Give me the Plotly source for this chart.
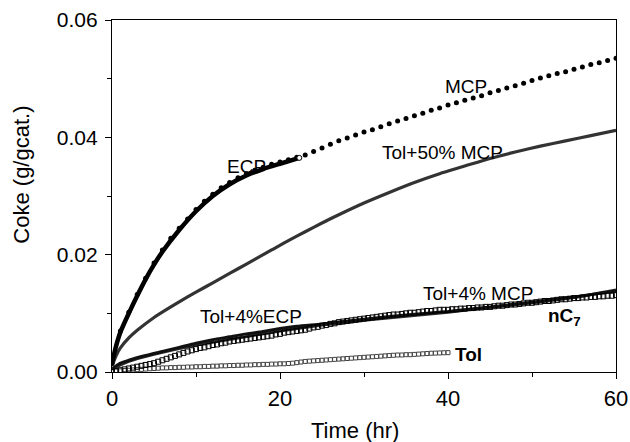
import plotly.graph_objects as go

# ---------------- data ----------------
# MCP: filled dots, one per hour (0..60 h)
mcp_t = list(range(0, 61))
mcp_c = [0.0015, 0.0070, 0.0102, 0.0132, 0.0160, 0.0186, 0.0208, 0.0228, 0.0245, 0.0261,
         0.0277, 0.0291, 0.0303, 0.0314, 0.0323, 0.0331, 0.0338, 0.0344, 0.0349, 0.0354,
         0.0358, 0.0362, 0.0366, 0.0370, 0.0376, 0.0382, 0.0388, 0.0394, 0.0399, 0.0404,
         0.0409, 0.0413, 0.0418, 0.0423, 0.0428, 0.0432, 0.0437, 0.0441, 0.0446, 0.0450,
         0.0455, 0.0459, 0.0463, 0.0467, 0.0471, 0.0476, 0.0480, 0.0484, 0.0488, 0.0492,
         0.0497, 0.0501, 0.0505, 0.0509, 0.0512, 0.0516, 0.0520, 0.0524, 0.0527, 0.0531,
         0.0535]

# ECP: dense open circles (drawn as a thick band), 0..22.3 h
ecp_t = [0, 0.5, 1, 2, 3, 4, 5, 6, 8, 10, 12, 14, 16, 18, 20, 22.3]
ecp_c = [0.0015, 0.0045, 0.0068, 0.0100, 0.0130, 0.0158, 0.0183, 0.0205, 0.0242, 0.0274,
         0.0300, 0.0320, 0.0335, 0.0346, 0.0355, 0.0365]

# Tol+50% MCP: dense band
t50_t = [0, 0.5, 1, 2, 3, 5, 7, 9, 11, 13, 15, 17, 19, 21, 23, 25, 27, 30, 33, 36, 39,
         42, 45, 48, 51, 54, 57, 60]
t50_c = [0.0010, 0.0028, 0.0041, 0.0058, 0.0071, 0.0093, 0.0111, 0.0128, 0.0144, 0.0160,
         0.0176, 0.0192, 0.0208, 0.0224, 0.0239, 0.0254, 0.0268, 0.0288, 0.0306, 0.0323,
         0.0338, 0.0351, 0.0364, 0.0375, 0.0385, 0.0394, 0.0403, 0.0412]

# Tol+4%ECP: dense band
t4e_t = [0, 1, 2, 4, 6, 8, 10, 12, 14, 16, 18, 20, 22, 25, 30, 35, 40, 45, 50, 55, 60]
t4e_c = [0.0005, 0.0015, 0.0020, 0.0028, 0.0035, 0.0042, 0.0049, 0.0055, 0.0060, 0.0065,
         0.0069, 0.0074, 0.0078, 0.0082, 0.0090, 0.0097, 0.0103, 0.0111, 0.0119, 0.0128,
         0.0138]

# Tol+4% MCP: dense band
t4m_t = [0, 2, 5, 10, 15, 20, 25, 30, 35, 40, 45, 50, 55, 60]
t4m_c = [0.0005, 0.0018, 0.0030, 0.0046, 0.0058, 0.0070, 0.0080, 0.0088, 0.0095, 0.0102,
         0.0110, 0.0118, 0.0127, 0.0140]

# nC7: open squares every 0.5 h, 0..60 h
nc7_c = [0.0000, 0.00015, 0.0003, 0.00045, 0.0006, 0.00075, 0.0009, 0.00105, 0.0012, 0.00135,
         0.0015, 0.00175, 0.0020, 0.00225, 0.0025, 0.00275, 0.0030, 0.00325, 0.0035, 0.0037,
         0.0039, 0.0041, 0.0042, 0.0044, 0.0046, 0.0047, 0.0049, 0.0050, 0.0052, 0.0053,
         0.0054, 0.0055, 0.0056, 0.0057, 0.0058, 0.0059, 0.0060, 0.0061, 0.0062, 0.0064,
         0.0065, 0.0067, 0.0068, 0.0069, 0.0070, 0.0071, 0.0072, 0.0074, 0.0076, 0.0077,
         0.0079, 0.0080, 0.0082, 0.0083, 0.0085, 0.0086, 0.0087, 0.0088, 0.0089, 0.0090,
         0.0091, 0.0092, 0.0093, 0.0094, 0.0095, 0.0096, 0.0097, 0.0098, 0.0098, 0.0099,
         0.0100, 0.0101, 0.0101, 0.0102, 0.0103, 0.0104, 0.0104, 0.0105, 0.0106, 0.0106,
         0.0106, 0.0107, 0.0107, 0.0108, 0.0108, 0.0109, 0.0109, 0.0110, 0.0110, 0.0111,
         0.0111, 0.0112, 0.0113, 0.0113, 0.0114, 0.0115, 0.0115, 0.0116, 0.0117, 0.0118,
         0.0118, 0.0119, 0.0120, 0.0121, 0.0121, 0.0122, 0.0123, 0.0124, 0.0124, 0.0125,
         0.0126, 0.0126, 0.0127, 0.0127, 0.0128, 0.0128, 0.0129, 0.0129, 0.0130, 0.0130,
         0.0131]
nc7_t = [i * 0.5 for i in range(len(nc7_c))]

# Tol: small open squares every 0.5 h, 0..40 h
tol_c = [0.0001, 0.00015, 0.0002, 0.00025, 0.0003, 0.00035, 0.0004, 0.00045, 0.0005, 0.00055,
         0.0006, 0.00065, 0.0007, 0.0007, 0.00075, 0.00075, 0.0008, 0.0008, 0.00085, 0.00085,
         0.0009, 0.0009, 0.00095, 0.00095, 0.0010, 0.0010, 0.00105, 0.00105, 0.0011, 0.0011,
         0.00115, 0.00115, 0.0012, 0.0012, 0.00125, 0.00125, 0.0013, 0.0013, 0.00135, 0.00135,
         0.0014, 0.0014, 0.00145, 0.0015, 0.0016, 0.0017, 0.0018, 0.00185, 0.0019, 0.00195,
         0.0020, 0.00205, 0.0021, 0.00215, 0.0022, 0.00225, 0.0023, 0.00235, 0.0024, 0.00245,
         0.0025, 0.00255, 0.0026, 0.00265, 0.0027, 0.00275, 0.0028, 0.00285, 0.0029, 0.0029,
         0.00295, 0.00295, 0.0030, 0.00305, 0.0031, 0.00315, 0.0032, 0.00322, 0.00325, 0.00328,
         0.0033]
tol_t = [i * 0.5 for i in range(len(tol_c))]

# curve labels: (text, x, y)
labels = [
    ("ECP", 16.0, 0.0350),
    ("MCP", 42.2, 0.0486),
    ("Tol+50% MCP", 39.4, 0.0375),
    ("Tol+4%ECP", 16.6, 0.0094),
    ("Tol+4% MCP", 43.6, 0.0134),
    ("<b>nC<sub>7</sub></b>", 53.9, 0.0094),
    ("<b>Tol</b>", 42.4, 0.0029),
]

FONT = "Liberation Sans, Arial, Helvetica, sans-serif"

fig = go.Figure()

# dense bands
fig.add_trace(go.Scatter(x=t50_t, y=t50_c, mode="lines",
                         line=dict(color="#333333", width=3.2, shape="spline", smoothing=0.6),
                         name="Tol+50% MCP"))
fig.add_trace(go.Scatter(x=t4m_t, y=t4m_c, mode="lines",
                         line=dict(color="#2a2a2a", width=3, shape="spline", smoothing=0.6),
                         name="Tol+4% MCP"))
fig.add_trace(go.Scatter(x=t4e_t, y=t4e_c, mode="lines",
                         line=dict(color="#111111", width=3, shape="spline", smoothing=0.6),
                         name="Tol+4%ECP"))
fig.add_trace(go.Scatter(x=tol_t, y=tol_c, mode="markers",
                         marker=dict(symbol="square-open", size=4, color="#444444",
                                     line=dict(width=1)),
                         name="Tol"))
fig.add_trace(go.Scatter(x=nc7_t, y=nc7_c, mode="markers",
                         marker=dict(symbol="square-open", size=5, color="black",
                                     line=dict(width=1)),
                         name="nC7"))
fig.add_trace(go.Scatter(x=mcp_t, y=mcp_c, mode="markers",
                         marker=dict(symbol="circle", size=5, color="black"),
                         name="MCP"))
fig.add_trace(go.Scatter(x=ecp_t, y=ecp_c, mode="lines",
                         line=dict(color="black", width=4.5, shape="spline", smoothing=0.6),
                         name="ECP"))
fig.add_trace(go.Scatter(x=ecp_t[-1:], y=ecp_c[-1:], mode="markers",
                         marker=dict(symbol="circle", size=5, color="white",
                                     line=dict(color="black", width=1)),
                         showlegend=False))

for text, x, y in labels:
    fig.add_annotation(x=x, y=y, xref="x", yref="y", text=text, showarrow=False,
                       font=dict(family=FONT, size=19, color="black"),
                       xanchor="center", yanchor="middle")

# axis titles
fig.add_annotation(x=0.482, y=-0.165, xref="paper", yref="paper", text="Time (hr)",
                   showarrow=False, font=dict(family=FONT, size=22, color="black"),
                   xanchor="center", yanchor="middle")
fig.add_annotation(x=-0.179, y=0.56, xref="paper", yref="paper", text="Coke (g/gcat.)",
                   showarrow=False, textangle=-90,
                   font=dict(family=FONT, size=22, color="black"),
                   xanchor="center", yanchor="middle")

fig.update_layout(
    width=630, height=442,
    margin=dict(l=112, r=14, t=20, b=70, autoexpand=False),
    paper_bgcolor="white", plot_bgcolor="white",
    showlegend=False,
    font=dict(family=FONT, color="black"),
)
fig.update_xaxes(range=[0, 60], tickmode="linear", tick0=0, dtick=20, automargin=False,
                 ticks="outside", ticklen=6, tickwidth=1, tickcolor="black",
                 showline=True, linecolor="black", linewidth=1.2, mirror=True,
                 showgrid=False, zeroline=False,
                 tickfont=dict(family=FONT, size=22, color="black"),
                 minor=dict(dtick=10, ticks="outside", ticklen=4, tickcolor="black"))
fig.update_yaxes(range=[0, 0.06], tickmode="linear", tick0=0, dtick=0.02, automargin=False,
                 tickformat=".2f", ticklabelstandoff=3,
                 ticks="outside", ticklen=6, tickwidth=1, tickcolor="black",
                 showline=True, linecolor="black", linewidth=1.2, mirror=True,
                 showgrid=False, zeroline=False,
                 tickfont=dict(family=FONT, size=21, color="black"),
                 minor=dict(dtick=0.01, ticks="outside", ticklen=4, tickcolor="black"))

fig.write_html("out.html")
